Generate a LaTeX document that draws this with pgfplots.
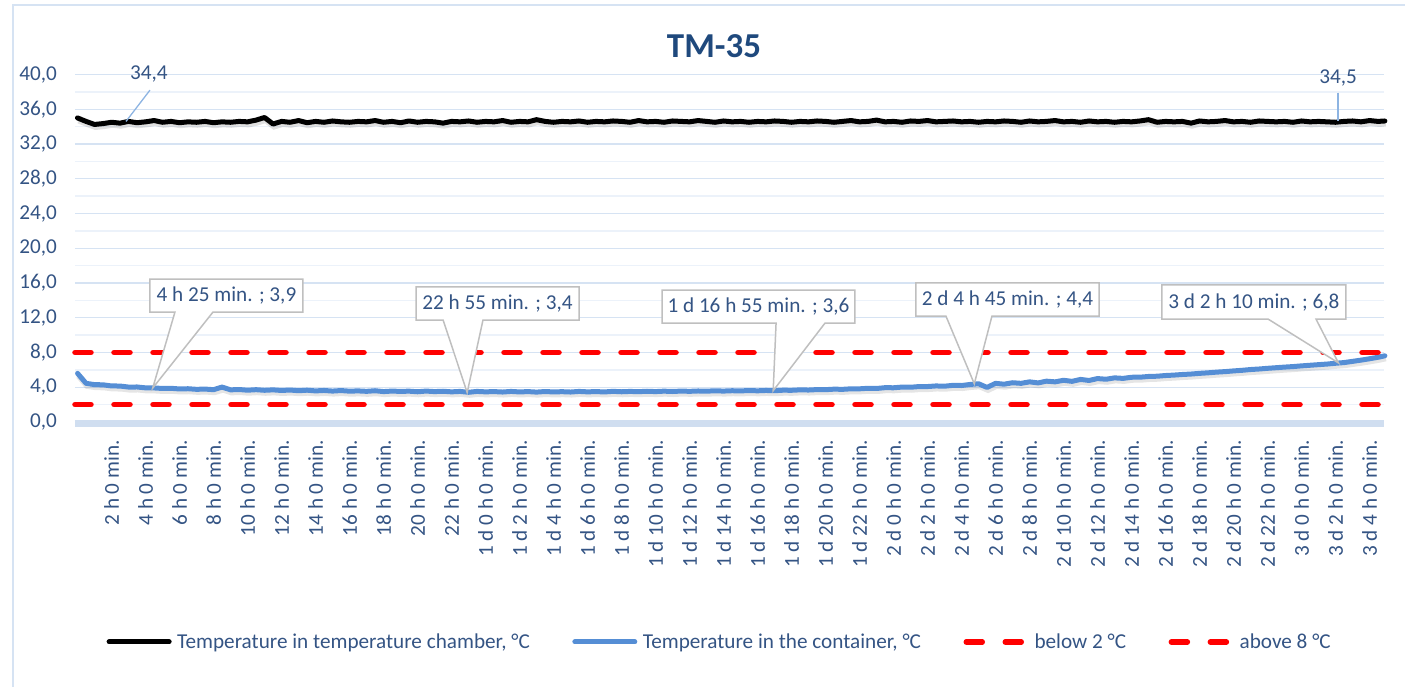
\documentclass[border=0pt]{standalone}
\usepackage{fontspec}
\setmainfont{Carlito}
\usepackage{pgfplots}
\pgfplotsset{compat=1.18}
\usepackage{pgfplotstable}

\definecolor{titlecol}{RGB}{31,73,125}
\definecolor{labelblue}{RGB}{52,84,132}
\definecolor{gridmaj}{RGB}{214,227,243}
\definecolor{gridmin}{RGB}{236,242,250}
\definecolor{bandblue}{RGB}{208,222,240}
\definecolor{framecol}{RGB}{214,227,243}
\definecolor{contblue}{RGB}{85,142,213}
\definecolor{leadblue}{RGB}{141,180,226}
\definecolor{callgray}{RGB}{191,191,191}

\newcommand\lbl{\fontsize{21.2}{25}\selectfont}

% callout: tipx tipy left right bottom top baseL baseR text
\newcommand\callout[9]{%
  \draw[callgray, line width=1.5pt, fill=white, line join=miter]
    (axis cs:#3,#6) -- (axis cs:#4,#6) -- (axis cs:#4,#5) -- (axis cs:#8,#5)
    -- (axis cs:#1,#2) -- (axis cs:#7,#5) -- (axis cs:#3,#5) -- cycle;
  \node[font=\lbl, text=labelblue] at (axis cs:{(#3+#4)/2},{(#5+#6)/2}) {#9};
}

% time in hours, chamber and container temperature in degC
\pgfplotstableread{
t ch co
0 35.0 5.6
0.5 34.6 4.45
1 34.25 4.30
1.5 34.35 4.28
2 34.5 4.15
2.5 34.4 4.14
3 34.6 4.02
3.5 34.45 4.03
4 34.55 3.93
4.5 34.7 3.92
5 34.5 3.86
5.5 34.6 3.88
6 34.45 3.80
6.5 34.55 3.83
7 34.5 3.76
7.5 34.6 3.79
8 34.45 3.72
8.5 34.55 4.02
9 34.5 3.70
9.5 34.6 3.74
10 34.55 3.66
10.5 34.75 3.72
11 35.05 3.65
11.5 34.3 3.70
12 34.6 3.63
12.5 34.5 3.68
13 34.7 3.60
13.5 34.45 3.66
14 34.6 3.58
14.5 34.5 3.63
15 34.65 3.56
15.5 34.55 3.62
16 34.5 3.55
16.5 34.6 3.58
17 34.55 3.53
17.5 34.7 3.60
18 34.5 3.50
18.5 34.6 3.56
19 34.45 3.52
19.5 34.65 3.55
20 34.5 3.48
20.5 34.6 3.56
21 34.55 3.50
21.5 34.4 3.54
22 34.6 3.47
22.5 34.55 3.52
23 34.65 3.42
23.5 34.5 3.52
24 34.6 3.47
24.5 34.55 3.50
25 34.7 3.45
25.5 34.5 3.52
26 34.6 3.46
26.5 34.55 3.50
27 34.8 3.44
27.5 34.6 3.51
28 34.5 3.46
28.5 34.6 3.49
29 34.55 3.45
29.5 34.65 3.52
30 34.5 3.47
30.5 34.6 3.50
31 34.55 3.46
31.5 34.65 3.53
32 34.6 3.48
32.5 34.5 3.52
33 34.7 3.49
33.5 34.55 3.54
34 34.6 3.50
34.5 34.5 3.55
35 34.65 3.51
35.5 34.6 3.56
36 34.55 3.53
36.5 34.7 3.57
37 34.6 3.55
37.5 34.5 3.59
38 34.65 3.56
38.5 34.55 3.60
39 34.6 3.58
39.5 34.5 3.62
40 34.6 3.59
40.5 34.55 3.63
41 34.65 3.60
41.5 34.6 3.66
42 34.5 3.65
42.5 34.6 3.70
43 34.55 3.68
43.5 34.65 3.73
44 34.6 3.72
44.5 34.5 3.78
45 34.6 3.76
45.5 34.7 3.82
46 34.55 3.82
46.5 34.6 3.88
47 34.75 3.86
47.5 34.55 3.95
48 34.6 3.94
48.5 34.5 4.02
49 34.65 4.00
49.5 34.6 4.08
50 34.7 4.08
50.5 34.55 4.15
51 34.6 4.12
51.5 34.65 4.22
52 34.55 4.20
52.5 34.6 4.32
53 34.5 4.40
53.5 34.6 3.98
54 34.55 4.45
54.5 34.65 4.35
55 34.6 4.52
55.5 34.5 4.45
56 34.65 4.62
56.5 34.55 4.50
57 34.6 4.70
57.5 34.7 4.62
58 34.55 4.80
58.5 34.6 4.68
59 34.5 4.90
59.5 34.65 4.78
60 34.55 5.00
60.5 34.6 4.92
61 34.5 5.08
61.5 34.6 5.02
62 34.55 5.15
62.5 34.65 5.16
63 34.8 5.24
63.5 34.5 5.27
64 34.6 5.35
64.5 34.55 5.40
65 34.6 5.47
65.5 34.4 5.52
66 34.65 5.60
66.5 34.55 5.66
67 34.6 5.74
67.5 34.7 5.80
68 34.55 5.88
68.5 34.6 5.95
69 34.5 6.04
69.5 34.65 6.10
70 34.6 6.18
70.5 34.55 6.25
71 34.6 6.32
71.5 34.5 6.38
72 34.65 6.46
72.5 34.55 6.53
73 34.6 6.60
73.5 34.55 6.67
74 34.5 6.76
74.5 34.6 6.84
75 34.65 6.98
75.5 34.55 7.12
76 34.7 7.28
76.5 34.6 7.45
76.9 34.65 7.62
}\tm

\begin{document}
\begin{tikzpicture}
\begin{axis}[
    name=ax, at={(0,0)}, anchor=south west,
    scale only axis, width=1309pt, height=347.5pt,
    xmin=-0.15, xmax=76.85, ymin=0, ymax=40,
    clip=false,
    axis line style={draw=none},
    major tick length=0pt, minor tick length=0pt,
    ytick={0,4,...,40}, minor y tick num=1,
    ymajorgrids, yminorgrids,
    major grid style={gridmaj, line width=1.3pt},
    minor grid style={gridmin, line width=1.3pt},
    xtick={2,4,...,76},
    xticklabels={2 h 0 min., 4 h 0 min., 6 h 0 min., 8 h 0 min., 10 h 0 min.,
      12 h 0 min., 14 h 0 min., 16 h 0 min., 18 h 0 min., 20 h 0 min., 22 h 0 min.,
      1 d 0 h 0 min., 1 d 2 h 0 min., 1 d 4 h 0 min., 1 d 6 h 0 min., 1 d 8 h 0 min.,
      1 d 10 h 0 min., 1 d 12 h 0 min., 1 d 14 h 0 min., 1 d 16 h 0 min.,
      1 d 18 h 0 min., 1 d 20 h 0 min., 1 d 22 h 0 min.,
      2 d 0 h 0 min., 2 d 2 h 0 min., 2 d 4 h 0 min., 2 d 6 h 0 min., 2 d 8 h 0 min.,
      2 d 10 h 0 min., 2 d 12 h 0 min., 2 d 14 h 0 min., 2 d 16 h 0 min.,
      2 d 18 h 0 min., 2 d 20 h 0 min., 2 d 22 h 0 min.,
      3 d 0 h 0 min., 3 d 2 h 0 min., 3 d 4 h 0 min.},
    tick label style={font=\lbl, text=labelblue},
    xticklabel style={rotate=90, anchor=east, inner sep=0pt, xshift=-18pt},
    yticklabel style={inner sep=0pt, xshift=-18pt,
      /pgf/number format/fixed, /pgf/number format/fixed zerofill,
      /pgf/number format/precision=1, /pgf/number format/use comma,
      /pgf/number format/assume math mode=true},
    legend columns=4,
    legend style={at={(0.4927,-0.633)}, anchor=center, draw=none, fill=none,
      font=\lbl, text=labelblue, nodes={inner sep=2.5pt},
      /tikz/every odd column/.append style={column sep=3pt},
      /tikz/every even column/.append style={column sep=40pt}},
    legend image code/.code={\draw[#1] (0pt,0pt) -- (60pt,0pt);},
  ]
\draw[bandblue, line width=7pt] ([yshift=-2pt]axis cs:-0.15,0) -- ([yshift=-2pt]axis cs:76.85,0);
% shadows
\addplot[forget plot, black, opacity=0.12, line width=6pt, xshift=1pt, yshift=-2.5pt] table[x=t, y=ch] {\tm};
\addplot[forget plot, black, opacity=0.10, line width=6pt, xshift=1pt, yshift=-2.5pt] table[x=t, y=co] {\tm};
% series
\addplot[black, line width=5pt, line cap=round, line join=round] table[x=t, y=ch] {\tm};
\addlegendentry{Temperature in temperature chamber, °C}
\addplot[contblue, line width=5pt, line cap=round, line join=round] table[x=t, y=co] {\tm};
\addlegendentry{Temperature in the container, °C}
\addplot[red, line width=5.5pt, line cap=round, dash pattern=on 16pt off 23pt] coordinates {(-0.15,2) (76.9,2)};
\addlegendentry{below 2 °C}
\addplot[red, line width=5.5pt, line cap=round, dash pattern=on 16pt off 23pt] coordinates {(-0.15,8) (76.9,8)};
\addlegendentry{above 8 °C}
% data labels
\draw[leadblue, line width=1.3pt] (axis cs:4.26,38.2) -- (axis cs:2.85,34.6);
\node[font=\lbl, text=labelblue] at (axis cs:4.2,40.05) {34,4};
\draw[leadblue, line width=1.3pt] (axis cs:74.15,37.9) -- (axis cs:74.15,34.6);
\node[font=\lbl, text=labelblue] at (axis cs:74.15,39.55) {34,5};
\callout{4.42}{3.9}{4.26}{13.26}{12.66}{16.46}{5.73}{7.97}{4 h 25 min. ; 3,9}
\callout{22.92}{3.4}{19.91}{29.5}{11.74}{15.54}{21.5}{23.85}{22 h 55 min. ; 3,4}
\callout{40.92}{3.6}{34.38}{45.73}{11.39}{15.19}{41.09}{43.97}{1 d 16 h 55 min. ; 3,6}
\callout{52.75}{4.4}{49.32}{60.09}{12.2}{16.0}{51.08}{53.79}{2 d 4 h 45 min. ; 4,4}
\callout{74.17}{6.8}{63.79}{74.61}{11.85}{15.77}{70.03}{72.85}{3 d 2 h 10 min. ; 6,8}
\end{axis}
\begin{scope}[x=1pt, y=1pt, shift={(ax.south west)}, shift={(-75,-265)}]
\draw[framecol, line width=1.5pt] (13,-10) -- (13,682) -- (1420,682);
\node[font=\fontsize{35}{40}\selectfont\bfseries, text=titlecol] at (714,641) {TM-35};
\pgfresetboundingbox
\useasboundingbox (0,0) rectangle (1405,687);
\end{scope}
\end{tikzpicture}
\end{document}
